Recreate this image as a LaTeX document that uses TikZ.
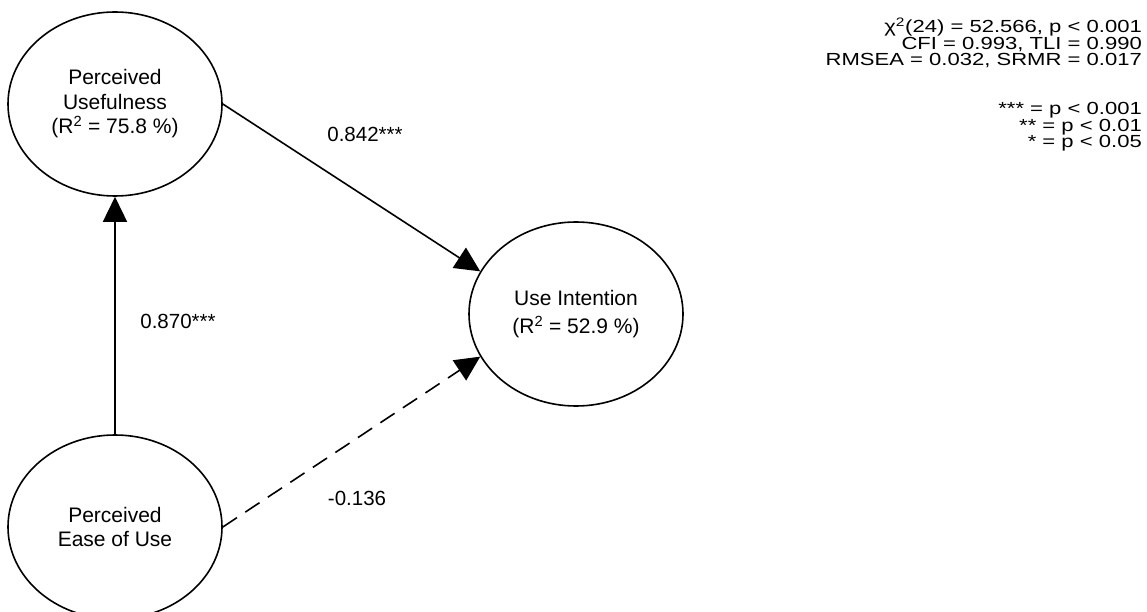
\documentclass[tikz,border=0pt]{standalone}
\usepackage{fontspec}
\setmainfont{Liberation Sans}
\usetikzlibrary{arrows.meta,shapes.geometric}
\newcommand{\wide}[1]{\scalebox{1.26}[1]{#1}}
\begin{document}
\begin{tikzpicture}[x=1pt,y=1pt,
  latent/.style={draw,ellipse,line width=1.6pt,minimum width=214pt,minimum height=184pt,inner sep=0pt,align=center,font=\fontsize{21}{24.5}\selectfont},
  path/.style={line width=1.6pt,-{Triangle[length=25pt,width=24pt]}},
  coef/.style={font=\fontsize{20.5}{24}\selectfont},
  fit/.style={anchor=base east,inner sep=0pt,font=\fontsize{17.5}{17}\selectfont}]
\useasboundingbox (0,0) rectangle (1147,611);
\node[latent] (PU) at (115,507) {Perceived\\Usefulness\\(R\textsuperscript{2} = 75.8 \%)};
\node[latent] (UI) at (576,297) {Use Intention\\[4pt](R\textsuperscript{2} = 52.9 \%)};
\node[latent] (PEOU) at (115,84) {Perceived\\Ease of Use};
\draw[path] (PU.east) -- (UI.156.7);
\draw[path] (PEOU.north) -- (PU.south);
\draw[path,dash pattern=on 17pt off 10pt] (PEOU.east) -- (UI.204.4);
\node[coef] (c1) at (365,476.5) {0.842***};
\node[coef] (c2) at (178,290) {0.870***};
\node[coef] (c3) at (357,112.5) {-0.136};
\node[fit] (f1) at (1142,578) {\wide{χ\textsuperscript{2}(24) = 52.566, p < 0.001}};
\node[fit] (f2) at (1142,561) {\wide{CFI = 0.993, TLI = 0.990}};
\node[fit] (f3) at (1142,545) {\wide{RMSEA = 0.032, SRMR = 0.017}};
\node[fit] (f4) at (1142,496) {\wide{*** = p < 0.001}};
\node[fit] (f5) at (1142,479) {\wide{** = p < 0.01}};
\node[fit] (f6) at (1142,463) {\wide{* = p < 0.05}};
\end{tikzpicture}
\end{document}
